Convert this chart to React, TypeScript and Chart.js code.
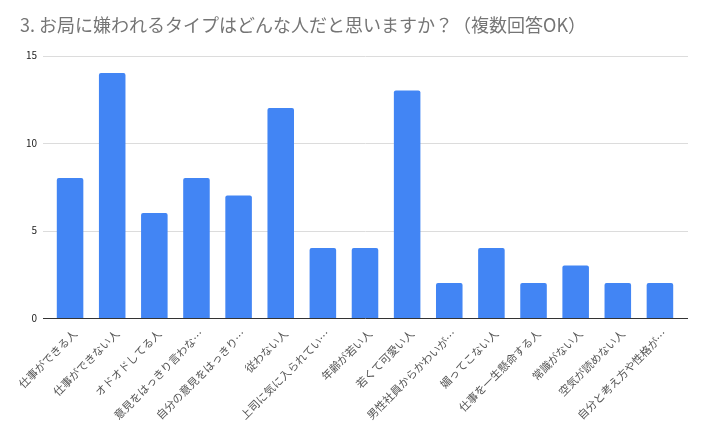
import React, { useEffect, useRef } from "react";
import { Chart, registerables } from "chart.js";

Chart.register(...registerables);

const TITLE = "3. お局に嫌われるタイプはどんな人だと思いますか？（複数回答OK）";

const categories = [
  "仕事ができる人",
  "仕事ができない人",
  "オドオドしてる人",
  "意見をはっきり言わな…",
  "自分の意見をはっきり…",
  "従わない人",
  "上司に気に入られてい…",
  "年齢が若い人",
  "若くて可愛い人",
  "男性社員からかわいが…",
  "媚ってこない人",
  "仕事を一生懸命する人",
  "常識がない人",
  "空気が読めない人",
  "自分と考え方や性格が…",
];

const counts = [8, 14, 6, 8, 7, 12, 4, 4, 13, 2, 4, 2, 3, 2, 2];

const yTicks = [0, 5, 10, 15];

const FONT = "'Noto Sans CJK JP', 'Noto Sans', Roboto, sans-serif";

const gridPlugin = {
  id: "extendedGrid",
  beforeDatasetsDraw(chart: any) {
    const { ctx, chartArea, scales } = chart;
    const y = scales.y;
    ctx.save();
    ctx.lineWidth = 1;
    for (const v of yTicks) {
      const py = Math.round(y.getPixelForValue(v)) + 0.5;
      ctx.strokeStyle = v === 0 ? "#333333" : "#dcdcdc";
      ctx.beginPath();
      ctx.moveTo(chartArea.left - 6, py);
      ctx.lineTo(chartArea.right + 7, py);
      ctx.stroke();
    }
    ctx.restore();
  },
};

export default function App() {
  const ref = useRef<HTMLCanvasElement | null>(null);

  useEffect(() => {
    if (!ref.current) return;
    const chart = new Chart(ref.current, {
      type: "bar",
      data: {
        labels: categories,
        datasets: [
          {
            data: counts,
            backgroundColor: "#4285F4",
            borderRadius: 2,
            borderSkipped: "bottom",
            categoryPercentage: 1,
            barPercentage: 0.63,
          },
        ],
      },
      options: {
        animation: false,
        responsive: true,
        maintainAspectRatio: false,
        layout: { padding: { left: 20, right: 22, top: 0, bottom: 4 } },
        plugins: {
          legend: { display: false },
          tooltip: { enabled: false },
          title: {
            display: true,
            text: TITLE,
            align: "start",
            color: "#757575",
            font: { family: FONT, size: 18, weight: "normal" },
            padding: { top: 14, bottom: 20 },
          },
        },
        scales: {
          x: {
            grid: { display: false, drawTicks: false },
            border: { display: false },
            ticks: {
              color: "#555555",
              font: { family: FONT, size: 11 },
              minRotation: 45,
              maxRotation: 45,
              autoSkip: false,
              padding: 9,
              labelOffset: 5,
            },
            afterFit(scale: any) {
              scale.height = 110;
            },
          },
          y: {
            min: 0,
            max: 15,
            grid: { display: false, drawTicks: false },
            border: { display: false },
            afterBuildTicks(scale: any) {
              scale.ticks = yTicks.map((v) => ({ value: v }));
            },
            ticks: {
              color: "#222222",
              font: { family: FONT, size: 10 },
              padding: 12,
            },
            afterFit(scale: any) {
              scale.width = 29;
            },
          },
        },
      },
      plugins: [gridPlugin],
    });
    return () => chart.destroy();
  }, []);

  return (
    <div
      style={{
        position: "fixed",
        left: 0,
        top: 0,
        width: 703,
        height: 432,
        background: "#ffffff",
      }}
    >
      <canvas ref={ref} />
    </div>
  );
}
